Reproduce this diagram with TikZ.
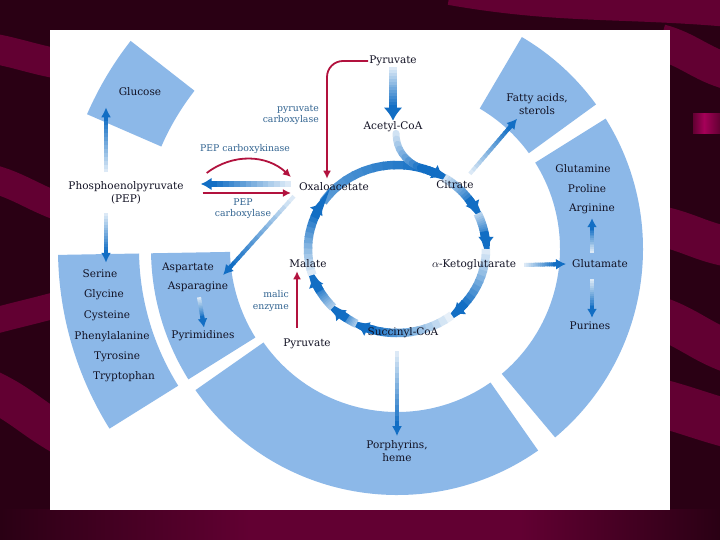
\documentclass[tikz,border=0pt]{standalone}
\usepackage{amsmath}
\usepackage{fontspec}
\setmainfont{DejaVu Serif}
\usetikzlibrary{arrows.meta, calc}

\definecolor{bgdark}{RGB}{42,0,20}
\definecolor{bgband}{RGB}{98,0,50}
\definecolor{bgmag}{RGB}{165,0,88}
\definecolor{secblue}{RGB}{140,184,232}
\definecolor{tcablue}{RGB}{18,110,196}
\definecolor{pyrred}{RGB}{178,18,62}
\definecolor{enzcol}{RGB}{50,100,145}
\definecolor{labcol}{RGB}{18,18,36}

\begin{document}
\begin{tikzpicture}[x=1pt, y=1pt]
\useasboundingbox (0,0) rectangle (720,540);
% ---- backdrop
\fill[bgdark] (0,0) rectangle (720,540);
\begin{scope}[bgband]
  \draw[line width=30pt] (-10,492) to[out=-10,in=170] (60,476);
  \draw[line width=28pt] (-10,362) to[out=-15,in=160] (60,333);
  \draw[line width=26pt] (-10,218) to[out=15,in=-165] (60,236);
  \draw[line width=40pt] (-10,150) to[out=-25,in=150] (60,106);
  \draw[line width=36pt] (660,498) to[out=-15,in=165] (730,468);
  \draw[line width=40pt] (660,314) to[out=-12,in=170] (730,293);
  \draw[line width=42pt] (660,222) to[out=-20,in=160] (730,188);
  \draw[line width=48pt] (660,137) to[out=-15,in=165] (730,116);
  \draw[line width=26pt] (450,548) to[out=-10,in=175] (730,526);
\end{scope}
\shade[left color=bgdark, right color=bgband] (0,0) rectangle (250,30);
\fill[bgband] (250,0) rectangle (520,30);
\shade[left color=bgband, right color=bgdark] (520,0) rectangle (720,30);
\shade[left color=bgband, right color=bgmag] (693,406) rectangle (704,426);
\shade[left color=bgmag, right color=bgband] (704,406) rectangle (720,426);
% ---- white panel
\fill[white] (50,30) rectangle (670,510);

\tikzset{lbl/.style={font=\fontsize{10.5}{13}\selectfont, text=labcol, inner sep=1pt, align=center},
         enz/.style={font=\fontsize{9.3}{11.2}\selectfont, text=enzcol, inner sep=1pt},
         redarr/.style={draw=pyrred, line width=1.8pt, -{Latex[length=8pt, width=8pt]}}}
\coordinate (C) at (397,291);
% \ringsec{from}{to}{inner r}{outer r}
\newcommand{\ringsec}[4]{\fill[secblue, shift={(C)}] (#1:#3) arc[start angle=#1, end angle=#2, radius=#3] -- (#2:#4) arc[start angle=#2, end angle=#1, radius=#4] -- cycle;}
% \cycarc{from angle}{to angle}{start shade}, clockwise, fading in
\newcommand{\cycarc}[3]{%
  \pgfmathsetmacro\cstop{#2+8}
  \foreach \k in {0,...,11} {
    \pgfmathsetmacro\caa{#1+(\cstop-#1)*\k/12}
    \pgfmathsetmacro\cab{#1+(\cstop-#1)*(\k+1.2)/12}
    \pgfmathtruncatemacro\ccol{#3+(100-#3)*\k/11}
    \draw[shift={(C)}, line width=8.5pt, tcablue!\ccol!white] (\caa:89 and 84) arc[start angle=\caa, end angle=\cab, x radius=89, y radius=84];
  }
  \pgfmathsetmacro\ctip{#2+12}
  \draw[shift={(C)}, line width=8.5pt, tcablue, -{Latex[length=12pt, width=16pt]}] (\ctip:89 and 84) arc[start angle=\ctip, end angle=#2, x radius=89, y radius=84];
}
% \fadearrow{from}{to}{shaft}{tip length}{tip width}
\newcommand{\fadearrow}[5]{%
  \coordinate (fa-s) at (#1); \coordinate (fa-e) at (#2);
  \coordinate (fa-b) at ($(fa-e)!#4pt!(fa-s)$);
  \foreach \k in {0,...,13} {
    \pgfmathsetmacro\fpa{\k/14}
    \pgfmathsetmacro\fpb{min(1,(\k+1.25)/14)}
    \pgfmathtruncatemacro\fpc{15+85*\k/13}
    \draw[line width=#3, tcablue!\fpc!white] ($(fa-s)!\fpa!(fa-b)$) -- ($(fa-s)!\fpb!(fa-b)$);
  }
  \pgfmathsetmacro\fpd{#4+3}
  \draw[line width=#3, tcablue, -{Latex[length=#4pt, width=#5pt]}] ($(fa-e)!\fpd pt!(fa-s)$) -- (fa-e);
}

% ---- biosynthetic sectors
\ringsec{36}{59.5}{163}{246}     % fatty acids
\ringsec{-50}{32}{163}{246}      % glutamate family
\ringsec{215}{305}{163}{246}     % porphyrins
\ringsec{181}{212}{167}{246}     % aspartate family
\ringsec{181}{212}{258}{339}     % serine family
\ringsec{142}{156.5}{257}{338}   % glucose

% ===== citric acid cycle
\cycarc{146}{58}{70}
\cycarc{58}{25}{20}
\cycarc{25}{0}{30}
\cycarc{0}{-52}{15}
\cycarc{-52}{-117}{10}
\cycarc{-117}{-136}{35}
\cycarc{-136}{-162}{35}
\cycarc{-162}{-214}{15}

% ---- labels
\node[lbl] (glucose) at (140,448) {Glucose};
\node[lbl] (pyrtop) at (393,479) {Pyruvate};
\node[lbl] (acoa) at (393,413) {Acetyl-CoA};
\node[enz, align=right, anchor=east] (pcarb) at (320,425) {pyruvate\\carboxylase};
\node[enz] (pepck) at (245,391) {PEP carboxykinase};
\node[lbl] (pep) at (126,347) {Phosphoenolpyruvate\\(PEP)};
\node[lbl] (oaa) at (334,353) {Oxaloacetate};
\node[enz, align=center] (pepc) at (243,331) {PEP\\carboxylase};
\node[lbl] (citrate) at (455,355) {Citrate};
\node[lbl] (fatty) at (537,436) {Fatty acids,\\sterols};
\node[lbl] (gln) at (583,371) {Glutamine};
\node[lbl] (pro) at (587,351) {Proline};
\node[lbl] (arg) at (592,331) {Arginine};
\node[lbl] (glu) at (600,276) {Glutamate};
\node[lbl] (pur) at (590,214) {Purines};
\node[lbl] (akg) at (474,275) {$\alpha$-Ketoglutarate};
\node[lbl] (malate) at (308,276) {Malate};
\node[enz, align=right, anchor=east] (malic) at (290,239) {malic\\enzyme};
\node[lbl] (pyrbot) at (307,196) {Pyruvate};
\node[lbl] (succ) at (403,207) {Succinyl-CoA};
\node[lbl] (asp) at (188,272) {Aspartate};
\node[lbl] (asn) at (198,253) {Asparagine};
\node[lbl] (pyrim) at (203,204) {Pyrimidines};
\node[lbl] (ser) at (100,266) {Serine};
\node[lbl] (gly) at (104,245) {Glycine};
\node[lbl] (cys) at (107,224) {Cysteine};
\node[lbl] (phe) at (112,203) {Phenylalanine};
\node[lbl] (tyr) at (117,183) {Tyrosine};
\node[lbl] (trp) at (124,163) {Tryptophan};
\node[lbl] (porph) at (397,89) {Porphyrins,\\heme};

% ---- acetyl-CoA joins the cycle
\coordinate (J) at ($(C)+(72:89 and 84)$);
\path ([xshift=3pt]acoa.south) .. controls +(0,-20) and ($(J)+(-14,4)$) .. (J)
  foreach \k in {0,...,10} {coordinate[pos=\k/10] (jn\k)};
\foreach \k [evaluate=\k as \kn using int(\k+1), evaluate=\k as \kc using int(20+80*\k/9)] in {0,...,9}
  \draw[line width=7pt, line cap=round, tcablue!\kc!white] (jn\k) -- (jn\kn);

% ---- blue flows
\fadearrow{pyrtop.south}{acoa.north}{8pt}{13}{19}
\fadearrow{[xshift=-7pt,yshift=3pt]oaa.west}{[xshift=16pt,yshift=9pt]pep.east}{6pt}{11}{13}
\fadearrow{[xshift=-20pt,yshift=8pt]pep.north}{[xshift=-34pt,yshift=-10pt]glucose.south}{4pt}{10}{10}
\fadearrow{[xshift=-20pt,yshift=-8pt]pep.south}{[xshift=6pt,yshift=6pt]ser.north}{4pt}{10}{10}
\fadearrow{[xshift=-4pt,yshift=-4pt]oaa.south west}{[xshift=8pt,yshift=-7pt]asp.east}{4pt}{10}{11}
\fadearrow{[xshift=1pt,yshift=-4pt]asn.south}{[xshift=1pt,yshift=2pt]pyrim.north}{4pt}{9}{10}
\fadearrow{[xshift=-5pt,yshift=6pt]citrate.north east}{[xshift=12pt,yshift=-3pt]fatty.south west}{4pt}{10}{11}
\fadearrow{[xshift=7pt]akg.east}{[xshift=-5pt]glu.west}{4pt}{10}{11}
\fadearrow{[xshift=-8pt,yshift=6pt]glu.north}{[yshift=-3pt]arg.south}{4pt}{9}{10}
\fadearrow{[xshift=-8pt,yshift=-10pt]glu.south}{[xshift=2pt,yshift=3pt]pur.north}{4pt}{9}{10}
\fadearrow{[xshift=-6pt,yshift=-12pt]succ.south}{[yshift=3pt]porph.north}{3.5pt}{10}{10}

% ---- anaplerotic reactions
\draw[redarr, rounded corners=16pt] (pyrtop.west) -| ([xshift=-7pt,yshift=3pt]oaa.north);
\draw[redarr] ([xshift=22pt,yshift=20pt]pep.east) to[bend left=40] ([xshift=-7pt,yshift=10pt]oaa.west);
\draw[redarr] ([xshift=18pt]pep.east) -- ([xshift=-7pt,yshift=-6pt]oaa.west);
\draw[redarr] ([xshift=-10pt,yshift=10pt]pyrbot.north) -- ([xshift=-11pt,yshift=-2pt]malate.south);
\end{tikzpicture}
\end{document}
